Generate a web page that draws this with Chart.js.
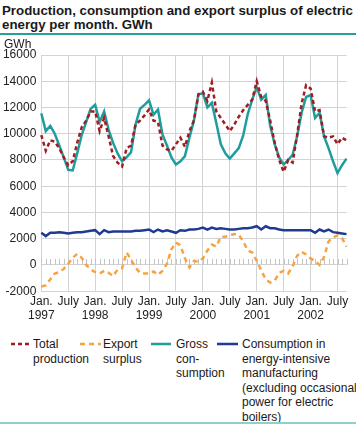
<!DOCTYPE html>
<html><head><meta charset="utf-8">
<script src="https://cdn.jsdelivr.net/npm/chart.js@4.4.0/dist/chart.umd.min.js"></script>
<style>
html,body{margin:0;padding:0;background:#fff;}
body{width:356px;height:425px;position:relative;overflow:hidden;font-family:"Liberation Sans",Arial,sans-serif;color:#1a1a1a;}
#title{position:absolute;left:2px;top:4px;font-weight:bold;font-size:13.3px;line-height:14px;white-space:nowrap;}
#rule{position:absolute;left:0;top:33px;width:356px;height:2px;background:#2a9d9d;}
#unit{position:absolute;left:4px;top:37px;font-size:12px;line-height:14px;}
#wrap{position:absolute;left:0;top:36px;width:356px;height:290px;}
.leg{position:absolute;font-size:12px;line-height:14.5px;white-space:nowrap;}
.sym{position:absolute;}
#bottomrule{position:absolute;left:0;top:422px;width:356px;height:2px;background:#8fcfcf;}
</style>
</head>
<body>
<div id="title">Production, consumption and export surplus of electric<br>energy per month. GWh</div>
<div id="rule"></div>
<div id="wrap"><canvas id="c" width="356" height="290"></canvas></div>
<div id="unit">GWh</div>

<svg class="sym" style="left:10px;top:340px" width="23" height="8"><line x1="1" y1="4" x2="22" y2="4" stroke="#a01d22" stroke-width="2.5" stroke-dasharray="4,3"/></svg>
<div class="leg" style="left:33px;top:337px">Total<br>production</div>
<svg class="sym" style="left:79px;top:340px" width="23" height="8"><line x1="1" y1="4" x2="22" y2="4" stroke="#f7a440" stroke-width="2.5" stroke-dasharray="5,4"/></svg>
<div class="leg" style="left:103px;top:337px">Export<br>surplus</div>
<svg class="sym" style="left:151px;top:340px" width="21" height="8"><line x1="0" y1="4" x2="20" y2="4" stroke="#1f9d9d" stroke-width="2.5"/></svg>
<div class="leg" style="left:176px;top:337px">Gross<br>con-<br>sumption</div>
<svg class="sym" style="left:217px;top:340px" width="22" height="8"><line x1="0" y1="4" x2="21" y2="4" stroke="#1f3a93" stroke-width="2.5"/></svg>
<div class="leg" style="left:242px;top:337px">Consumption in<br>energy-intensive<br>manufacturing<br>(excluding occasional<br>power for electric<br>boilers)</div>
<div id="bottomrule"></div>

<script>
// ---- data ----
const years = ['1997','1998','1999','2000','2001','2002'];
const tickMonths = ['Jan.','July'];
const monthCount = 69; // Jan 1997 - Sep 2002
const categories = [];
for (const yr of years) for (let m = 1; m <= 12; m++) categories.push(yr + '-' + String(m).padStart(2,'0'));
categories.length = monthCount;

const totalProduction = [
  9900,8700,9500,9400,8900,8200,7600,7900,9300,10500,11000,11700,
  11700,10200,11200,9800,8300,7800,7500,8900,9100,10700,11000,11400,
  11850,11000,10900,9100,8800,8700,9200,9700,9000,10200,11000,13000,
  13200,12500,13900,11700,11200,10700,10200,10700,11300,11800,12200,12600,
  14000,12800,12500,11000,9300,8000,7100,8000,7800,9900,12300,13700,
  13450,11700,11800,9800,9700,9800,9200,9700,9500];
const exportSurplus = [
  -1650,-1550,-1100,-650,-550,-300,100,550,850,550,0,-350,
  -550,-650,-450,-600,-850,-350,-250,950,400,-200,-600,-650,
  -650,-500,-750,-450,100,1200,1700,1500,500,-200,300,250,
  500,1100,1550,1400,2150,2150,2250,2350,2300,1800,1100,950,
  300,-400,-1100,-1350,-1200,-600,-450,-650,-100,700,1000,800,
  500,300,0,600,1800,2100,2250,2050,1400];
const grossConsumption = [
  11550,10200,10600,10000,9100,8200,7250,7200,8500,9900,10900,11900,
  12200,10900,11700,10300,9300,8500,7900,8200,8600,10700,11900,12200,
  12550,11450,11850,9950,9100,8200,7650,7900,8300,9700,11000,13000,
  13100,12000,12350,10800,9200,8500,8100,8500,8900,9900,11500,12600,
  13550,12600,12950,10600,9200,8200,7650,8000,8400,9800,11600,12800,
  12950,11200,11600,9800,8900,7900,7000,7600,8100];
const energyIntensive = [
  2450,2200,2450,2450,2500,2450,2400,2450,2500,2500,2550,2600,
  2650,2350,2650,2500,2550,2550,2550,2550,2550,2600,2600,2650,
  2700,2500,2700,2550,2650,2550,2450,2650,2600,2700,2700,2750,
  2850,2700,2850,2750,2800,2750,2700,2700,2750,2800,2800,2850,
  2950,2700,2950,2800,2800,2700,2650,2650,2650,2650,2650,2650,
  2650,2450,2700,2550,2700,2500,2450,2400,2350];

// ---- chart ----
const FONT = '"Liberation Sans", Arial, sans-serif';
const GRID = '#d3d3d3';

function xTickLabel(i) {
  const m = i % 12;
  if (m === 0) return [tickMonths[0], years[Math.floor(i / 12)]];
  if (m === 6) return tickMonths[1];
  return '';
}

const monthTicks = {
  id: 'monthTicks',
  beforeDatasetsDraw(chart) {
    const {ctx, scales: {x, y}} = chart;
    const y0 = y.getPixelForValue(0);
    ctx.save();
    ctx.strokeStyle = '#c4c4c4';
    ctx.lineWidth = 1;
    for (let i = 0; i < categories.length; i++) {
      const px = Math.round(x.getPixelForValue(i)) + 0.5;
      ctx.beginPath();
      ctx.moveTo(px, y0);
      ctx.lineTo(px, y0 - 6);
      ctx.stroke();
    }
    ctx.restore();
  }
};

const common = {pointRadius: 0, borderWidth: 2.5, tension: 0, fill: false, borderCapStyle: 'butt'};

new Chart(document.getElementById('c'), {
  type: 'line',
  data: {
    labels: categories,
    datasets: [
      Object.assign({label: 'Total production', data: totalProduction, borderColor: '#a01d22', borderDash: [4, 3]}, common),
      Object.assign({label: 'Export surplus', data: exportSurplus, borderColor: '#f7a440', borderDash: [5, 4]}, common),
      Object.assign({label: 'Gross consumption', data: grossConsumption, borderColor: '#1f9d9d'}, common),
      Object.assign({label: 'Consumption in energy-intensive manufacturing', data: energyIntensive, borderColor: '#1f3a93'}, common)
    ]
  },
  options: {
    responsive: false,
    animation: false,
    devicePixelRatio: 1,
    layout: {padding: {left: 2.5, right: 9.5, top: 19, bottom: 0}},
    plugins: {legend: {display: false}, tooltip: {enabled: false}},
    scales: {
      x: {
        offset: false,
        ticks: {autoSkip: false, maxRotation: 0, minRotation: 0, padding: 3,
          font: {size: 12, family: FONT, lineHeight: 1.2}, color: '#222',
          callback: (v, i) => xTickLabel(i)},
        grid: {color: c => (c.index % 6 === 0 ? GRID : 'rgba(0,0,0,0)'), drawTicks: false, lineWidth: 1},
        border: {display: false}
      },
      y: {
        min: -2000, max: 16000,
        afterFit: s => { s.width = 38.8; },
        ticks: {stepSize: 2000, padding: 5, font: {size: 12, family: FONT}, color: '#222',
          callback: v => String(v)},
        grid: {color: GRID, drawTicks: false, lineWidth: 1},
        border: {display: false}
      }
    }
  },
  plugins: [monthTicks]
});
</script>
</body></html>
